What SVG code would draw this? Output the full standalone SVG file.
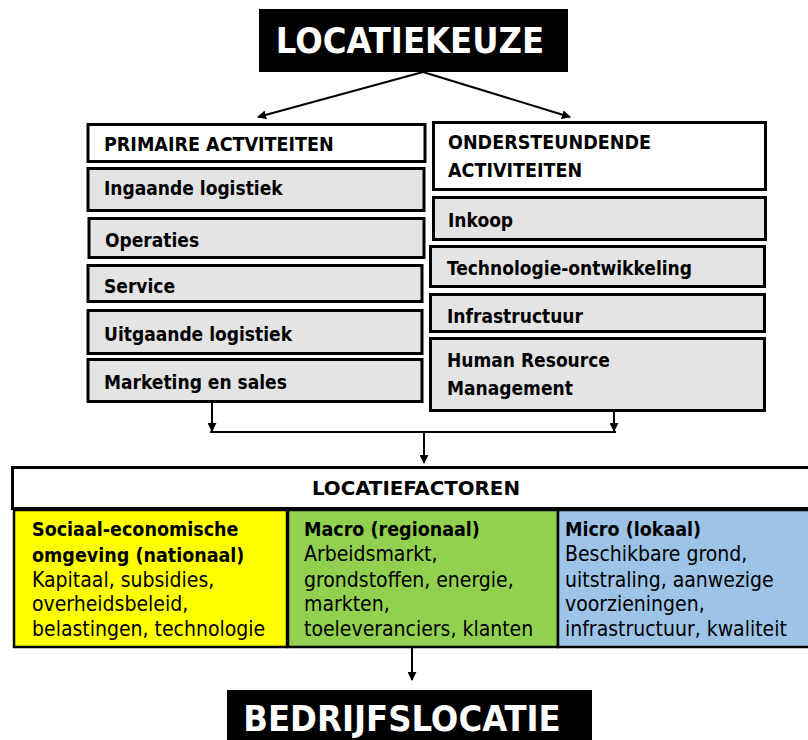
<svg xmlns="http://www.w3.org/2000/svg" width="808" height="740" viewBox="0 0 808 740">
<defs>
<marker id="ah" viewBox="0 0 10 10" refX="9" refY="5" markerWidth="9" markerHeight="9" markerUnits="userSpaceOnUse" orient="auto">
<path d="M0,0 L10,5 L0,10 Z" fill="#000"/>
</marker>
</defs>
<style>
text{font-family:"DejaVu Sans Condensed","DejaVu Sans","Liberation Sans",sans-serif;fill:#000}
.title{font-size:36px;font-weight:bold;fill:#fff;text-anchor:middle}
.hdr{font-size:19.5px;font-weight:bold}
.act{font-size:19px;font-weight:bold}
.box{fill:#e4e4e4;stroke:#000;stroke-width:3}
.hbox{fill:#fff;stroke:#000;stroke-width:3}
.fb{font-size:19.5px;font-weight:bold}
.fr{font-size:21px}
.fbox{stroke:#000;stroke-width:2.5}
.con{fill:none;stroke:#000;stroke-width:2}
</style>
<rect width="808" height="740" fill="#fff"/>

<g id="connectors">
<line class="con" x1="423" y1="72" x2="258" y2="117" marker-end="url(#ah)"/>
<line class="con" x1="423" y1="72" x2="570" y2="117" marker-end="url(#ah)"/>
<line class="con" x1="212" y1="403" x2="212" y2="431" marker-end="url(#ah)"/>
<line class="con" x1="614" y1="412" x2="614" y2="431" marker-end="url(#ah)"/>
<line class="con" x1="210" y1="432" x2="616" y2="432" stroke="#2b3340"/>
<line class="con" x1="424" y1="432" x2="424" y2="463" marker-end="url(#ah)"/>
<line class="con" x1="412" y1="648" x2="412" y2="680" marker-end="url(#ah)"/>
</g>

<g id="locatiekeuze">
<rect x="259" y="9" width="309" height="63" fill="#000"/>
<text class="title" x="410" y="53">LOCATIEKEUZE</text>
</g>

<g id="primaire">
<rect class="hbox" x="88" y="124.5" width="337" height="37"/>
<text class="hdr" x="104" y="151">PRIMAIRE ACTVITEITEN</text>
</g>
<g id="ingaande">
<rect class="box" x="88" y="168.5" width="336" height="42"/>
<text class="act" x="104" y="195">Ingaande logistiek</text>
</g>
<g id="operaties">
<rect class="box" x="89" y="218.5" width="335" height="39"/>
<text class="act" x="105" y="247">Operaties</text>
</g>
<g id="service">
<rect class="box" x="88" y="265.5" width="334" height="36"/>
<text class="act" x="104" y="293">Service</text>
</g>
<g id="uitgaande">
<rect class="box" x="88" y="310.5" width="334" height="43"/>
<text class="act" x="104" y="341">Uitgaande logistiek</text>
</g>
<g id="marketing">
<rect class="box" x="88" y="359.5" width="334" height="42"/>
<text class="act" x="104" y="389">Marketing en sales</text>
</g>

<g id="ondersteunende">
<rect class="hbox" x="433.5" y="122.5" width="332" height="67"/>
<text class="hdr" x="448" y="149">ONDERSTEUNDENDE</text>
<text class="hdr" x="448" y="177">ACTIVITEITEN</text>
</g>
<g id="inkoop">
<rect class="box" x="433.5" y="197.5" width="332" height="42"/>
<text class="act" x="448" y="227">Inkoop</text>
</g>
<g id="technologie">
<rect class="box" x="430.5" y="246.5" width="334" height="40"/>
<text class="act" x="447" y="275">Technologie-ontwikkeling</text>
</g>
<g id="infrastructuur">
<rect class="box" x="430.5" y="294.5" width="334" height="37"/>
<text class="act" x="447" y="323">Infrastructuur</text>
</g>
<g id="hrm">
<rect class="box" x="430.5" y="338.5" width="334" height="72"/>
<text class="act" x="447" y="367">Human Resource</text>
<text class="act" x="447" y="395">Management</text>
</g>

<g id="locatiefactoren">
<rect class="hbox" x="12.5" y="467.5" width="810" height="41"/>
<text class="hdr" x="312" y="495" font-size="20" textLength="208" lengthAdjust="spacingAndGlyphs">LOCATIEFACTOREN</text>
</g>

<g id="sociaal">
<rect class="fbox" x="14" y="510" width="273" height="137" fill="#ffff00"/>
<text class="fb" x="32" y="536">Sociaal-economische</text>
<text class="fb" x="32" y="562">omgeving (nationaal)</text>
<text class="fr" x="32" y="587">Kapitaal, subsidies,</text>
<text class="fr" x="32" y="611">overheidsbeleid,</text>
<text class="fr" x="32" y="636">belastingen, technologie</text>
</g>
<g id="macro">
<rect class="fbox" x="288" y="510" width="270" height="137" fill="#92d050"/>
<text class="fb" x="304" y="536">Macro (regionaal)</text>
<text class="fr" x="304" y="561">Arbeidsmarkt,</text>
<text class="fr" x="304" y="587">grondstoffen, energie,</text>
<text class="fr" x="304" y="611">markten,</text>
<text class="fr" x="304" y="636">toeleveranciers, klanten</text>
</g>
<g id="micro">
<rect class="fbox" x="558" y="510" width="260" height="137" fill="#9dc3e6"/>
<text class="fb" x="565" y="536">Micro (lokaal)</text>
<text class="fr" x="565" y="561">Beschikbare grond,</text>
<text class="fr" x="565" y="587">uitstraling, aanwezige</text>
<text class="fr" x="565" y="611">voorzieningen,</text>
<text class="fr" x="565" y="636">infrastructuur, kwaliteit</text>
</g>

<g id="bedrijfslocatie">
<rect x="227" y="690" width="365" height="60" fill="#000"/>
<text class="title" x="402" y="731">BEDRIJFSLOCATIE</text>
</g>
</svg>
